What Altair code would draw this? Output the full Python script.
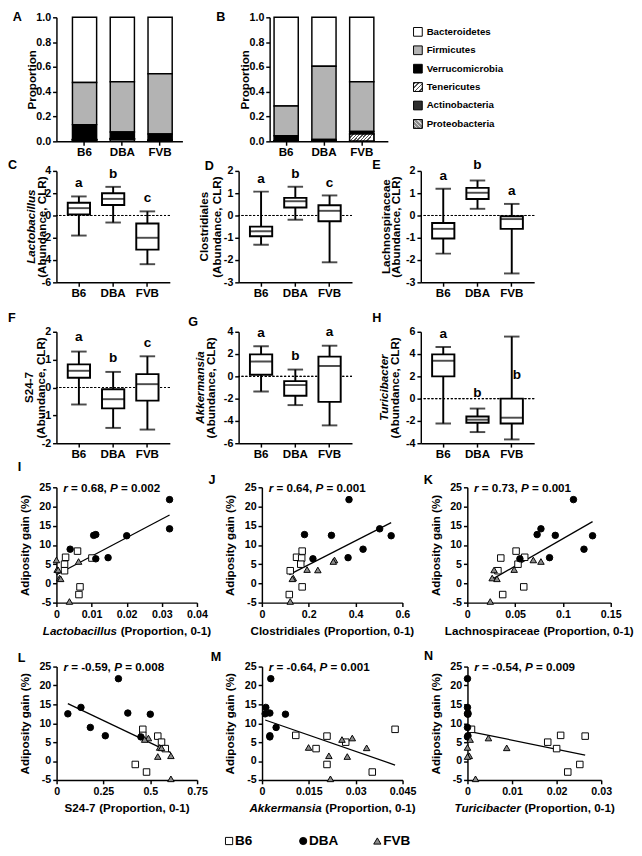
import altair as alt
import pandas as pd

FONT = "Liberation Sans"
groups = ["B6", "DBA", "FVB"]

# ---------------- Panels A/B : phylum proportions (top of stack -> bottom) ----------------
phyla = ["Bacteroidetes", "Firmicutes", "Verrucomicrobia", "Tenericutes", "Actinobacteria", "Proteobacteria"]
phyla_colors = ["#ffffff", "#b3b3b3", "#000000", "#e6e6e6", "#2e2e2e", "#a6a6a6"]
a_B6 = [0.525, 0.340, 0.120, 0.002, 0.003, 0.010]
a_DBA = [0.520, 0.405, 0.053, 0.002, 0.005, 0.015]
a_FVB = [0.455, 0.485, 0.050, 0.005, 0.002, 0.003]
b_B6 = [0.715, 0.240, 0.040, 0.001, 0.002, 0.002]
b_DBA = [0.395, 0.590, 0.010, 0.002, 0.001, 0.002]
b_FVB = [0.520, 0.400, 0.020, 0.057, 0.001, 0.002]

# ---------------- Panels C-H : box stats (min, q1, median, q3, max) per strain ----------------
box_lacto = [(-1.80, 0.09, 0.66, 1.14, 1.71), (-0.63, 0.94, 1.49, 2.00, 2.57), (-4.37, -3.06, -2.00, -0.71, 0.37)]
let_lacto = ["a", "b", "c"]
lety_lacto = [2.91, 3.71, 1.57]
box_clos = [(-1.31, -0.93, -0.71, -0.50, 1.07), (-0.19, 0.36, 0.64, 0.79, 1.29), (-2.10, -0.26, 0.21, 0.46, 0.90)]
let_clos = ["a", "b", "c"]
lety_clos = [1.61, 1.86, 1.47]
box_lach = [(-1.71, -1.03, -0.60, -0.34, 1.20), (0.30, 0.74, 1.02, 1.24, 1.57), (-2.60, -0.60, -0.16, -0.03, 0.52)]
let_lach = ["a", "b", "a"]
lety_lach = [1.77, 2.26, 1.08]
box_s24 = [(-0.61, 0.35, 0.60, 0.83, 1.29), (-1.45, -0.75, -0.42, -0.06, 0.56), (-1.51, -0.47, 0.12, 0.48, 1.12)]
let_s24 = ["a", "b", "c"]
lety_s24 = [1.81, 1.06, 1.61]
box_akk = [(-1.36, 0.14, 1.33, 1.97, 2.70), (-2.58, -1.74, -0.78, -0.43, 0.61), (-4.40, -2.29, 0.93, 1.77, 2.75)]
let_akk = ["a", "b", "a"]
lety_akk = [3.86, 1.83, 4.00]
box_turi = [(-2.23, 2.00, 3.40, 3.97, 4.63), (-3.00, -2.17, -1.89, -1.60, -0.89), (-3.66, -2.23, -1.71, 0.00, 5.57)]
let_turi = ["a", "b", "b"]
lety_turi = [5.77, 0.49, 2.11]

# ---------------- Panels I-N : adiposity gain vs taxa proportion ----------------
adip_B6 = [8.4, 6.8, 6.6, 5.0, 3.3, -0.9, -2.9]
adip_DBA = [21.8, 14.2, 12.7, 12.5, 12.4, 8.9, 6.7, 6.4]
adip_FVB = [6.1, 5.7, 3.6, 3.5, 1.4, 1.2, -4.7]

lacto_B6 = [0.0060, 0.0026, 0.0101, 0.0023, 0.0023, 0.0067, 0.0064]
lacto_DBA = [0.0322, 0.0322, 0.0112, 0.0106, 0.0200, 0.0039, 0.0147, 0.0112]
lacto_FVB = [0.0000, 0.0063, 0.0002, 0.0005, 0.0009, 0.0012, 0.0037]

clos_B6 = [0.172, 0.148, 0.170, 0.166, 0.121, 0.172, 0.117]
clos_DBA = [0.372, 0.503, 0.182, 0.297, 0.552, 0.432, 0.368, 0.218]
clos_FVB = [0.310, 0.305, 0.193, 0.239, 0.134, 0.130, 0.121]

lach_B6 = [0.051, 0.060, 0.035, 0.053, 0.032, 0.059, 0.037]
lach_DBA = [0.111, 0.077, 0.073, 0.092, 0.131, 0.122, 0.086, 0.055]
lach_FVB = [0.069, 0.077, 0.049, 0.028, 0.026, 0.031, 0.024]

s24_B6 = [0.46, 0.46, 0.54, 0.56, 0.58, 0.42, 0.48]
s24_DBA = [0.33, 0.13, 0.38, 0.06, 0.50, 0.18, 0.26, 0.45]
s24_FVB = [0.49, 0.47, 0.55, 0.56, 0.61, 0.54, 0.61]

akk_B6 = [0.0426, 0.0108, 0.0208, 0.0268, 0.0173, 0.0208, 0.0353]
akk_DBA = [0.0028, 0.0012, 0.0025, 0.0010, 0.0075, 0.0045, 0.0025, 0.0025]
akk_FVB = [0.0289, 0.0256, 0.0149, 0.0335, 0.0214, 0.0273, 0.0219]

turi_B6 = [0.0009, 0.0209, 0.0264, 0.0180, 0.0200, 0.0252, 0.0225]
turi_DBA = [0.0000, 0.0000, 0.0001, 0.0000, 0.0001, 0.0000, 0.0001, 0.0000]
turi_FVB = [0.0047, 0.0006, 0.0000, 0.0088, 0.0004, 0.0000, 0.0018]

# ---------------- helpers ----------------
AW = {' ': 278, '(': 333, ')': 333, ',': 278, '-': 333, '.': 278, '=': 584, '%': 889,
      'A': 722, 'C': 722, 'L': 611, 'P': 667, 'S': 667, 'T': 611,
      'a': 556, 'b': 611, 'c': 556, 'd': 611, 'e': 556, 'h': 611, 'i': 278, 'k': 556,
      'l': 278, 'm': 889, 'n': 611, 'o': 611, 'p': 611, 'r': 389, 's': 556, 't': 333, 'u': 611}


def tw(s, size):
    return sum(AW.get(ch, 556) for ch in s) * size / 1000.0


MINUS = "replace(datum.label, '\u2212', '-')"
BOLD = dict(font=FONT, fontWeight="bold", color="black")


def hatch(line, back, n, x2, y2, flip=False, frac=0.45):
    stops = []
    for i in range(n):
        a, b, c = i / n, (i + frac) / n, (i + 1) / n
        stops += [{"offset": a, "color": line}, {"offset": b, "color": line},
                  {"offset": b, "color": back}, {"offset": c, "color": back}]
    return {"gradient": "linear", "x1": 1 if flip else 0, "y1": 0, "x2": 0 if flip else x2, "y2": y2,
            "stops": stops}


def label(text, x, y, size=13, **kw):
    return alt.Chart(pd.DataFrame({"t": [text]})).mark_text(
        fontSize=size, **BOLD, **kw).encode(x=alt.value(x), y=alt.value(y), text="t:N")


def letter_mark(letter, dx, cy):
    return label(letter, dx, cy, size=13, align="left", baseline="middle")


def row(*charts, spacing):
    return alt.hconcat(*charts, spacing=spacing, bounds="flush")


color_scale = alt.Scale(domain=phyla, range=phyla_colors)
shape_scale = alt.Scale(domain=groups, range=["square", "circle", "triangle-up"])
fill_scale = alt.Scale(domain=groups, range=["#ffffff", "#000000", "#8c8c8c"])

BAR_H, BOX_H, SC_H1, SC_H2 = 128, 115, 119, 117


def bar_panel(vals, letter, dx, cy, width, po, align):
    rows = []
    for g, v in zip(groups, vals):
        for k, (p, x) in enumerate(zip(phyla, v)):
            rows.append({"group": g, "phylum": p, "value": x, "ord": len(phyla) - 1 - k})
    df = pd.DataFrame(rows)
    H = BAR_H
    X = alt.X("group:N", sort=groups,
              scale=alt.Scale(domain=groups, paddingInner=0.36, paddingOuter=po, align=align),
              axis=alt.Axis(title=None, labelAngle=0, labelFontSize=12))
    Y = alt.Y("y0:Q", scale=alt.Scale(domain=[0, 1], nice=False),
              axis=alt.Axis(values=[0, 0.2, 0.4, 0.6, 0.8, 1.0], format=".1f", title="Proportion",
                            titleX=-26, titleY=H / 2, titleAngle=270, titleAlign="center",
                            titleBaseline="middle", labelOverlap=False))
    base = alt.Chart(df).transform_stack(stack="value", groupby=["group"], as_=["y0", "y1"],
                                         sort=[alt.SortField("ord", order="ascending")])
    bars = base.mark_bar(stroke="black", strokeWidth=1.5).encode(
        x=X, y=Y, y2="y1:Q", color=alt.Color("phylum:N", scale=color_scale, legend=None))
    ten = base.transform_filter(alt.datum.phylum == "Tenericutes").mark_bar(
        stroke="black", strokeWidth=1.5, fill=hatch("#555555", "#ffffff", 8, 1, 0.28)).encode(
        x=X, y=Y, y2="y1:Q")
    return alt.layer(bars, ten, letter_mark(letter, dx, cy)).properties(width=width, height=H)


def phyla_legend(shift):
    # drawn to the left of its own (narrow) frame so the row can use one spacing value
    df = pd.DataFrame({"phylum": phyla})
    Y = alt.Y("phylum:N", scale=alt.Scale(type="point", domain=phyla, range=[15, 110], padding=0), axis=None)
    sx = 8 - shift
    sq = alt.Chart(df).mark_square(size=81, stroke="black", strokeWidth=1, opacity=1).encode(
        x=alt.value(sx), y=Y, color=alt.Color("phylum:N", scale=color_scale, legend=None))
    sq_t = alt.Chart(df).transform_filter(alt.datum.phylum == "Tenericutes").mark_square(
        size=81, stroke="black", strokeWidth=1, opacity=1,
        fill=hatch("#555555", "#ffffff", 4, 1, 1)).encode(x=alt.value(sx), y=Y)
    sq_p = alt.Chart(df).transform_filter(alt.datum.phylum == "Proteobacteria").mark_square(
        size=81, stroke="black", strokeWidth=1, opacity=1,
        fill=hatch("#d9d9d9", "#8c8c8c", 4, 1, 1, flip=True, frac=0.35)).encode(x=alt.value(sx), y=Y)
    tx = alt.Chart(df).mark_text(align="left", baseline="middle", fontSize=10, **BOLD).encode(
        x=alt.value(sx + 9), y=Y, text="phylum:N")
    return alt.layer(sq, sq_t, sq_p, tx).properties(width=20, height=BAR_H)


def box_panel(stats, letters, lety, ydom, ystep, genus, italic, gen_off, main_off,
              letter, dx, cy, shift_last=False):
    W, H = 117, BOX_H
    df = pd.DataFrame({"group": groups,
                       "lo": [s[0] for s in stats], "q1": [s[1] for s in stats],
                       "med": [s[2] for s in stats], "q3": [s[3] for s in stats],
                       "hi": [s[4] for s in stats], "letter": letters, "ly": lety,
                       "zero": [0.0, 0.0, 0.0]})
    X = alt.X("group:N", sort=groups,
              scale=alt.Scale(domain=groups, paddingInner=0.35, paddingOuter=0.33),
              axis=alt.Axis(title=None, labelAngle=0, labelFontSize=12))
    ysc = alt.Scale(domain=ydom, nice=False, zero=False)
    yax = alt.Axis(values=list(range(ydom[0], ydom[1] + 1, ystep)), labelExpr=MINUS, labelOverlap=False,
                   title="(Abundance, CLR)", titleX=main_off, titleY=H / 2, titleAngle=270,
                   titleAlign="center", titleBaseline="middle")

    def Y(f):
        return alt.Y(f, scale=ysc, axis=yax)

    base = alt.Chart(df)
    zero = base.mark_rule(color="black", strokeWidth=1, strokeDash=[2, 2]).encode(y=Y("zero:Q"))
    whisk = base.mark_rule(color="black", strokeWidth=2).encode(x=X, y=Y("lo:Q"), y2="hi:Q")
    box = base.mark_bar(fill="white", stroke="black", strokeWidth=2).encode(x=X, y=Y("q1:Q"), y2="q3:Q")
    med = base.mark_tick(color="black", thickness=2, size=23).encode(x=X, y=Y("med:Q"))
    cap_lo = base.mark_tick(color="black", thickness=2, size=16).encode(x=X, y=Y("lo:Q"))
    cap_hi = base.mark_tick(color="black", thickness=2, size=16).encode(x=X, y=Y("hi:Q"))
    layers = [zero, whisk, box, med, cap_lo, cap_hi]
    if shift_last:
        layers.append(base.transform_filter(alt.datum.group != groups[-1]).mark_text(
            fontSize=14, baseline="middle", **BOLD).encode(x=X, y=Y("ly:Q"), text="letter:N"))
        layers.append(base.transform_filter(alt.datum.group == groups[-1]).mark_text(
            fontSize=14, baseline="middle", align="left", dx=1, **BOLD).encode(x=X, y=Y("ly:Q"), text="letter:N"))
    else:
        layers.append(base.mark_text(fontSize=14, baseline="middle", **BOLD).encode(
            x=X, y=Y("ly:Q"), text="letter:N"))
    layers.append(label(genus, gen_off, H / 2, size=12, angle=270, align="center", baseline="middle",
                        fontStyle="italic" if italic else "normal"))
    layers.append(letter_mark(letter, dx, cy))
    return alt.layer(*layers).properties(width=W, height=H)


def scatter_panel(xb, xd, xf, xmax, xvals, genus, italic, r_s, p_s, letter, dx, cy, W, H):
    rows = []
    for g, xs, ys in zip(groups, [xb, xd, xf], [adip_B6, adip_DBA, adip_FVB]):
        for x, y in zip(xs, ys):
            rows.append({"group": g, "x": x, "y": y})
    df = pd.DataFrame(rows)
    xsc = alt.Scale(domain=[0, xmax], nice=False, zero=False)
    ysc = alt.Scale(domain=[-5, 25], nice=False, zero=False)
    paren = "(Proportion, 0-1)"
    g_w, sp, p_w = tw(genus, 12), tw(" ", 12), tw(paren, 12)
    total = g_w + sp + p_w
    g_right = W / 2 - total / 2 + g_w
    p_left = g_right + sp
    xax = alt.Axis(values=xvals, format=".3~f", title=paren, titleX=p_left, titleY=29, labelOverlap=False,
                   titleAlign="left", titleBaseline="middle")
    yax = alt.Axis(values=list(range(-5, 26, 5)), labelExpr=MINUS, title="Adiposity gain (%)",
                   labelOverlap=False, titleX=-33, titleY=H / 2, titleAngle=270, titleAlign="center",
                   titleBaseline="middle")
    X = alt.X("x:Q", scale=xsc, axis=xax)
    Y = alt.Y("y:Q", scale=ysc, axis=yax)
    line = alt.Chart(df).transform_regression("x", "y").mark_line(
        color="black", strokeWidth=1.3).encode(x=X, y=Y)
    pts = alt.Chart(df).mark_point(filled=True, size=45, stroke="black", strokeWidth=1, opacity=1).encode(
        x=X, y=Y,
        shape=alt.Shape("group:N", scale=shape_scale, legend=None),
        fill=alt.Fill("group:N", scale=fill_scale, legend=None))
    segs = [("r", True), ("= " + r_s + ",", False), ("P", True), ("= " + p_s, False)]
    layers = [line, pts]
    x0 = 7
    for s, it in segs:
        layers.append(label(s, x0, 1, size=12, align="left", baseline="middle",
                            fontStyle="italic" if it else "normal"))
        x0 += tw(s + " ", 12)
    layers.append(label(genus, g_right, H + 29, size=12, align="right", baseline="middle",
                        fontStyle="italic" if italic else "normal"))
    layers.append(letter_mark(letter, dx, cy))
    return alt.layer(*layers).properties(width=W, height=H)


def strain_legend():
    df = pd.DataFrame({"group": groups})
    X = alt.X("group:N", sort=groups,
              scale=alt.Scale(type="point", domain=groups, range=[0, 153], padding=0), axis=None)
    pts = alt.Chart(df).mark_point(filled=True, size=55, stroke="black", strokeWidth=1, opacity=1).encode(
        x=X, y=alt.value(7),
        shape=alt.Shape("group:N", scale=shape_scale, legend=None),
        fill=alt.Fill("group:N", scale=fill_scale, legend=None))
    tx = alt.Chart(df).mark_text(align="left", baseline="middle", dx=6, fontSize=14, **BOLD).encode(
        x=X, y=alt.value(7), text="group:N")
    pad = alt.Chart(pd.DataFrame({"p": [0]})).mark_point(opacity=0).encode(
        x=alt.value(217), y=alt.value(7))
    return alt.layer(pts, tx, pad).properties(width=153, height=14)


# ---------------- assemble ----------------
pA = bar_panel([a_B6, a_DBA, a_FVB], "A", -45, 0, 130, 0.347, 0.61)
pB = bar_panel([b_B6, b_DBA, b_FVB], "B", -55, 0, 122, 0.244, 0.24)

pC = box_panel(box_lacto, let_lacto, lety_lacto, [-6, 4], 2, "Lactobacillus", True, -26, -15, "C", -50, -6)
pD = box_panel(box_clos, let_clos, lety_clos, [-3, 2], 1, "Clostridiales", False, -36, -23, "D", -35, -5)
pE = box_panel(box_lach, let_lach, lety_lach, [-3, 2], 1, "Lachnospiraceae", False, -36, -26, "E", -50, -6)
pF = box_panel(box_s24, let_s24, lety_s24, [-2, 2], 1, "S24-7", False, -28, -16, "F", -50, -14)
pG = box_panel(box_akk, let_akk, lety_akk, [-6, 4], 2, "Akkermansia", True, -40, -29, "G", -52, -10)
pH = box_panel(box_turi, let_turi, lety_turi, [-4, 6], 2, "Turicibacter", True, -38, -27, "H", -50, -14,
               shift_last=True)

pI = scatter_panel(lacto_B6, lacto_DBA, lacto_FVB, 0.04, [0, 0.01, 0.02, 0.03, 0.04],
                   "Lactobacillus", True, "0.68", "0.002", "I", -40, -21, 145, SC_H1)
pJ = scatter_panel(clos_B6, clos_DBA, clos_FVB, 0.6, [0, 0.2, 0.4, 0.6],
                   "Clostridiales", False, "0.64", "0.001", "J", -55, -7, 145, SC_H1)
pK = scatter_panel(lach_B6, lach_DBA, lach_FVB, 0.15, [0, 0.05, 0.1, 0.15],
                   "Lachnospiraceae", False, "0.73", "0.001", "K", -45, -7, 148, SC_H1)
pL = scatter_panel(s24_B6, s24_DBA, s24_FVB, 0.75, [0, 0.25, 0.5, 0.75],
                   "S24-7", False, "-0.59", "0.008", "L", -40, -9, 145, SC_H2)
pM = scatter_panel(akk_B6, akk_DBA, akk_FVB, 0.045, [0, 0.015, 0.03, 0.045],
                   "Akkermansia", True, "-0.64", "0.001", "M", -53, -10, 145, SC_H2)
pN = scatter_panel(turi_B6, turi_DBA, turi_FVB, 0.03, [0, 0.01, 0.02, 0.03],
                   "Turicibacter", True, "-0.54", "0.009", "N", -45, -11, 138, SC_H2)

row1 = row(pA, pB, phyla_legend(67), spacing=90)
row2 = row(pC, pD, pE, spacing=71)
row3 = row(pF, pG, pH, spacing=71)
row4 = row(pI, pJ, pK, spacing=67)
row5 = row(pL, pM, pN, spacing=67)

g5 = alt.vconcat(row5, strain_legend(), spacing=21, center=True)
g4 = alt.vconcat(row4, g5, spacing=14)
g3 = alt.vconcat(row3, g4, spacing=1.5)
g2 = alt.vconcat(row2, g3, spacing=14)
chart = alt.vconcat(row1, g2, spacing=0.5)

chart = chart.configure_view(stroke=None).configure_axis(
    labelFont=FONT, labelFontSize=11, labelFontWeight="bold", labelColor="black",
    titleFont=FONT, titleFontSize=12, titleFontWeight="bold", titleColor="black",
    domainColor="black", domainWidth=1.5, tickColor="black", tickWidth=1.5, tickSize=4,
    labelPadding=2, grid=False, labelFlush=False, labelOverlap=False
).properties(padding={"top": -10, "left": 0, "right": 0, "bottom": 0}, background="white")

chart.save("out.html", embed_options={"renderer": "svg", "actions": False})
